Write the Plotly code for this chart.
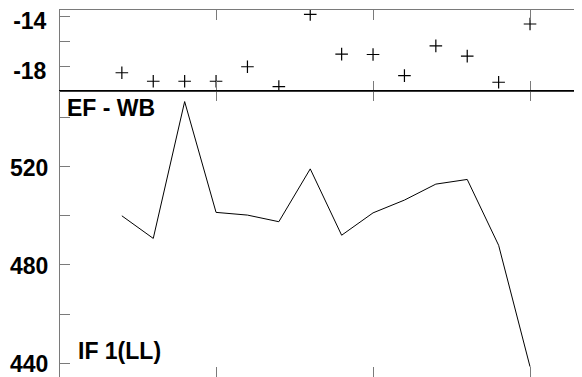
import plotly.graph_objects as go

# sample index along the shared x axis
idx = list(range(1, 15))

# upper panel: residuals (cross markers)
resid = [-18.48, -19.16, -19.16, -19.16, -18.0, -19.59, -13.81,
         -16.99, -17.02, -18.71, -16.33, -17.15, -19.24, -14.58]

# lower panel: EF - WB series
efwb = [500.0, 490.8, 546.5, 501.4, 500.3, 497.6, 519.1,
        492.1, 501.2, 506.4, 512.9, 514.8, 488.0, 438.6]

top_ticks = [-14, -16, -18]
top_text = ['-14', '', '-18']
bot_ticks = [440, 460, 480, 500, 520, 540]
bot_text = ['440', '', '480', '', '520', '']
x_ticks = [4, 9, 14]

# the page body adds an 8px offset, so margins are set to compensate
W, H = 582, 377
OFF = 8
L, T, B = 60 - OFF, 10 - OFF, OFF
right_px = OFF + W          # plot right edge in page pixels (just past the window)
split = (377 - 91) / 367

grey = '#7a7a7a'
fam = 'Liberation Sans, Arial, sans-serif'
font = dict(family=fam, size=23, color='black')
tfont = dict(family=fam, size=23, color='black', weight='bold')

fig = go.Figure()

fig.add_trace(go.Scatter(
    x=idx, y=resid, mode='markers', xaxis='x', yaxis='y',
    marker=dict(symbol='cross-thin', size=9, line=dict(color='black', width=1.2)),
    showlegend=False
))

fig.add_trace(go.Scatter(
    x=idx, y=efwb, mode='lines', xaxis='x2', yaxis='y2',
    line=dict(color='black', width=1),
    showlegend=False
))

# dummy trace so the right-hand tick axis is drawn
fig.add_trace(go.Scatter(x=[None], y=[None], xaxis='x2', yaxis='y3',
                         showlegend=False, hoverinfo='skip'))

xr = [-0.97, 15.91]
xcommon = dict(range=xr, tickvals=x_ticks, ticks='inside', ticklen=10,
               tickcolor=grey, tickwidth=1, showticklabels=False,
               showgrid=False, zeroline=False, showline=True, mirror='ticks',
               automargin=False)

fig.update_layout(
    width=W, height=H,
    margin=dict(l=L, r=0, t=T, b=B),
    paper_bgcolor='white', plot_bgcolor='white',
    font=font,
    xaxis=dict(xcommon, anchor='y', linecolor=grey),
    xaxis2=dict(xcommon, anchor='y2', matches='x', linecolor='black'),
    yaxis=dict(domain=[split, 1], anchor='x', range=[-19.94, -13.46],
               tickvals=top_ticks, ticktext=top_text,
               ticks='inside', ticklen=10, tickcolor=grey,
               showline=True, linecolor=grey, showgrid=False, zeroline=False,
               tickfont=tfont, ticklabelstandoff=8, ticklabelshift=4,
               automargin=False, ticklabeloverflow='allow'),
    yaxis2=dict(domain=[0, split], anchor='x2', range=[434.4, 550.8],
                tickvals=bot_ticks, ticktext=bot_text,
                ticks='inside', ticklen=10, tickcolor=grey,
                showline=True, linecolor=grey, showgrid=False, zeroline=False,
                tickfont=tfont, ticklabelstandoff=6, ticklabelshift=1,
                automargin=False, ticklabeloverflow='allow'),
    yaxis3=dict(overlaying='y2', side='right', anchor='x2', range=[434.4, 550.8],
                tickvals=bot_ticks, ticks='inside', ticklen=10, tickcolor=grey,
                showticklabels=False, showline=False, showgrid=False, zeroline=False,
                automargin=False),
)

fig.add_shape(type='line', xref='paper', yref='paper', x0=0, x1=1,
              y0=split, y1=split, line=dict(color='black', width=1.2), layer='above')

pw = right_px - 60
fig.add_annotation(text='<b>EF - WB</b>', xref='paper', yref='paper',
                   x=(65 - 60) / pw, y=(377 - 108.3) / 367,
                   xanchor='left', yanchor='middle', showarrow=False, font=font)
fig.add_annotation(text='<b>IF 1(LL)</b>', xref='paper', yref='paper',
                   x=(76 - 60) / pw, y=(377 - 350.5) / 367,
                   xanchor='left', yanchor='middle', showarrow=False, font=font)

fig.write_html("out.html")
